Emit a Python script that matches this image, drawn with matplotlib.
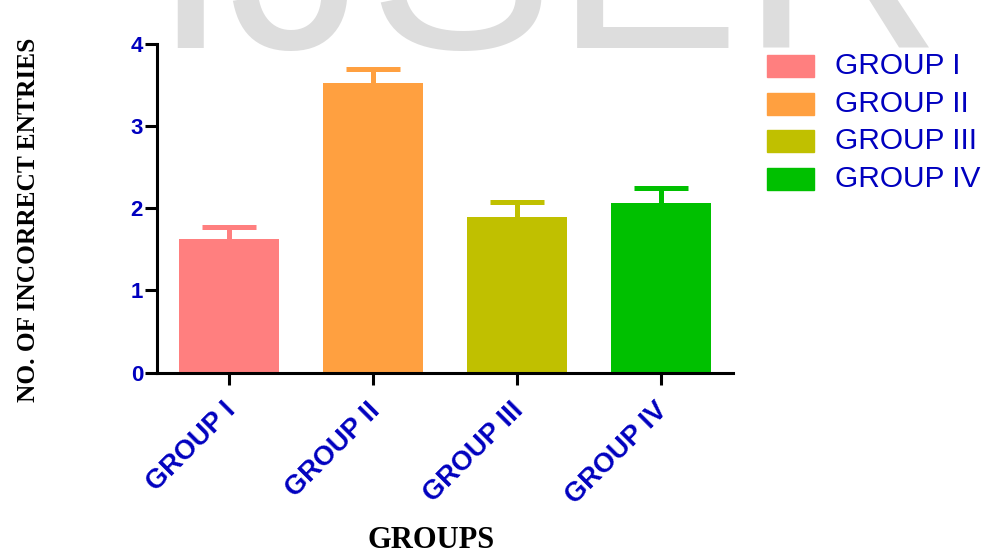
import numpy as np
import matplotlib
matplotlib.use("Agg")
import matplotlib.pyplot as plt
import matplotlib.transforms as mtransforms
from matplotlib.patches import Rectangle

# data
groups = ["GROUP I", "GROUP II", "GROUP III", "GROUP IV"]
means = [1.62, 3.52, 1.89, 2.06]
sem = [0.15, 0.17, 0.18, 0.18]
colors = ["#FF7F7F", "#FFA040", "#C0C000", "#00C000"]
yticks = [0, 1, 2, 3, 4]

blue = "#0000BF"
sans = "Liberation Sans"
serif = "Liberation Serif"

fig = plt.figure(figsize=(9.84, 5.55), dpi=100)
ax = fig.add_axes([0.1596, 0.3288, 0.5853, 0.5928])
ax.patch.set_alpha(0)

# watermark behind everything
fig.text(151 / 984, 1 - 48 / 555, "IJSER", fontsize=201, family=sans,
         color="#DDDDDD", ha="left", va="baseline", zorder=-1)

x = np.arange(len(groups))
ax.bar(x, means, width=0.7, color=colors, zorder=2)
for i in range(len(groups)):
    eb = ax.errorbar(x[i], means[i], yerr=[[0], [sem[i]]], color=colors[i],
                     elinewidth=3.6, capsize=19.5, capthick=3.6, zorder=3)
    eb[1][0].set_visible(False)

ax.set_xlim(-0.5, 3.5)
ax.set_ylim(0, 4)
ax.set_yticks(yticks)
ax.set_xticks(x)
ax.set_xticklabels(groups)

for s in ["top", "right"]:
    ax.spines[s].set_visible(False)
for s in ["left", "bottom"]:
    ax.spines[s].set_linewidth(2.2)

ax.tick_params(axis="both", length=8.6, width=2.2, color="black")
ax.tick_params(axis="y", pad=1.5)
ax.tick_params(axis="x", pad=16)

for lab in ax.get_yticklabels():
    lab.set_fontsize(16)
    lab.set_fontweight("bold")
    lab.set_family(sans)
    lab.set_color(blue)

offset = mtransforms.ScaledTranslation(3 / 100, 0, fig.dpi_scale_trans)
for lab in ax.get_xticklabels():
    lab.set_fontsize(19.5)
    lab.set_fontweight("bold")
    lab.set_family(sans)
    lab.set_color(blue)
    lab.set_rotation(45)
    lab.set_rotation_mode("anchor")
    lab.set_ha("right")
    lab.set_va("center")
    lab.set_transform(lab.get_transform() + offset)

# axis titles
fig.text(29 / 984, 1 - 220 / 555, "NO. OF INCORRECT ENTRIES", rotation=90,
         fontsize=18.3, fontweight="bold", family=serif, color="black",
         ha="center", va="center")
fig.text(431 / 984, 1 - 541 / 555, "GROUPS", fontsize=22, fontweight="bold",
         family=serif, color="black", ha="center", va="center")

# legend
for i, (g, c) in enumerate(zip(groups, colors)):
    yc = 66 + i * 37.7
    fig.add_artist(Rectangle((767 / 984, 1 - (yc + 11) / 555), 47 / 984, 22 / 555,
                             transform=fig.transFigure, color=c))
    fig.text(835 / 984, 1 - yc / 555, g, fontsize=21.5, family=sans, color=blue,
             ha="left", va="center")

fig.savefig("out.png", dpi=100)
